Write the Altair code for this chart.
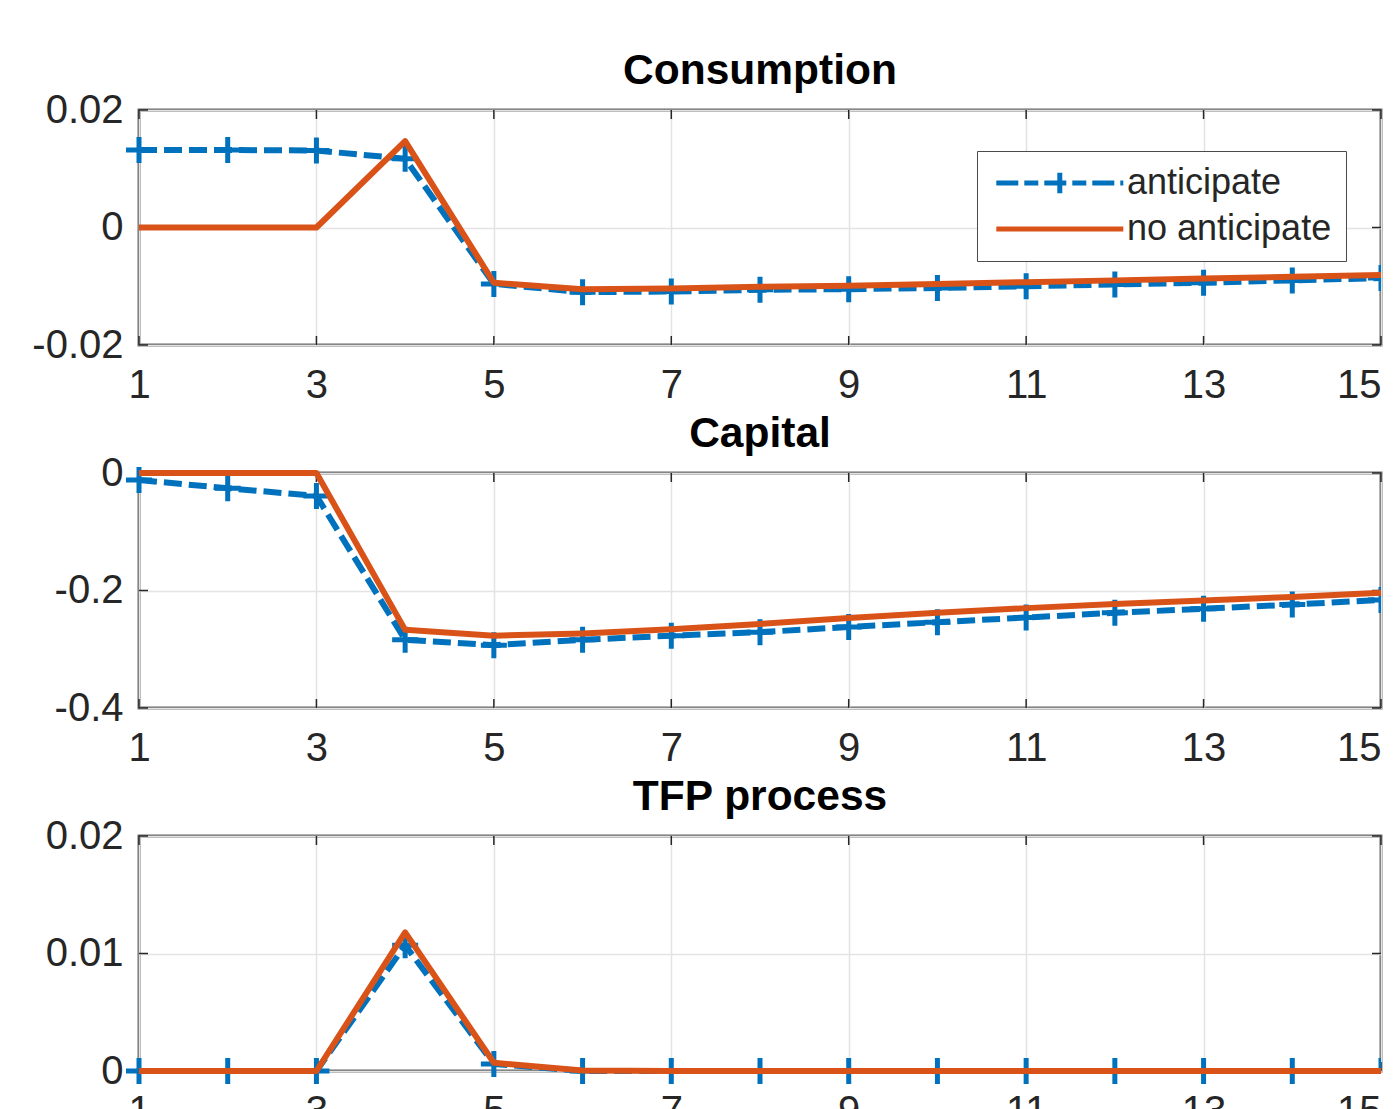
import altair as alt
import pandas as pd

# ---------------- data ----------------
periods = list(range(1, 16))
series_names = ["anticipate", "no anticipate"]
x_ticks = [1, 3, 5, 7, 9, 11, 13, 15]

cons_anticipate = [0.0132, 0.0132, 0.0131, 0.0117, -0.0096, -0.0110, -0.0109, -0.0106,
                   -0.0105, -0.0103, -0.0100, -0.0097, -0.0094, -0.0090, -0.0086]
cons_no_anticipate = [0.0, 0.0, 0.0, 0.0147, -0.0094, -0.0105, -0.0104, -0.0101,
                      -0.0099, -0.0096, -0.0093, -0.0090, -0.0087, -0.0084, -0.0081]

cap_anticipate = [-0.012, -0.026, -0.039, -0.284, -0.293, -0.284, -0.277, -0.271,
                  -0.262, -0.254, -0.246, -0.238, -0.231, -0.224, -0.216]
cap_no_anticipate = [0.0, 0.0, 0.0, -0.267, -0.277, -0.273, -0.266, -0.257,
                     -0.247, -0.238, -0.230, -0.223, -0.217, -0.211, -0.204]

tfp_anticipate = [0.0, 0.0, 0.0, 0.0107, 0.0006, 0.0, 0.0, 0.0,
                  0.0, 0.0, 0.0, 0.0, 0.0, 0.0, 0.0]
tfp_no_anticipate = [0.0, 0.0, 0.0, 0.0118, 0.0007, 0.00005, 0.0, 0.0,
                     0.0, 0.0, 0.0, 0.0, 0.0, 0.0, 0.0]

cons_y_ticks = [-0.02, 0.0, 0.02]
cap_y_ticks = [-0.4, -0.2, 0.0]
tfp_y_ticks = [0.0, 0.01, 0.02]

# ---------------- style ----------------
BLUE = "#0072BD"
ORANGE = "#D95319"
FONT = "Liberation Sans"
W, H = 1242, 235
PLUS = "M-1,0H1M0,-1V1"
LEG_CROSS = "M4,-0.8V0.8M-1,0H9"
LEG_LINE = "M-1,0H9"
LABEL_EXPR = ("datum.value == 0 ? '0' : (datum.value < 0 ? '-' + format(-datum.value, '') "
              ": format(datum.value, ''))")


def panel(title, a_vals, n_vals, ydom, yticks, with_legend=False):
    df = pd.DataFrame({
        "t": periods + periods,
        "v": a_vals + n_vals,
        "series": [series_names[0]] * len(periods) + [series_names[1]] * len(periods),
    })
    xt = pd.DataFrame({"t": x_ticks})
    yt = pd.DataFrame({"v": yticks})

    x = alt.X("t:Q", scale=alt.Scale(domain=[1, 15], nice=False, zero=False),
              axis=alt.Axis(values=x_ticks, title=None, grid=True, domain=False, ticks=False,
                            labelPadding=20, labelFontSize=40, labelFont=FONT,
                            labelColor="#262626", format="d", labelFlush=False,
                            labelAlign=alt.condition("datum.value == 15",
                                                     alt.value("right"), alt.value("center"))))
    y = alt.Y("v:Q", scale=alt.Scale(domain=ydom, nice=False, zero=False),
              axis=alt.Axis(values=yticks, title=None, grid=True, domain=False, ticks=False,
                            labelPadding=16, labelFontSize=40, labelFont=FONT,
                            labelColor="#262626", labelExpr=LABEL_EXPR, labelFlush=False))

    base = alt.Chart(df).encode(x=x, y=y)
    is_a = alt.datum.series == series_names[0]
    blue_line = base.transform_filter(is_a).mark_line(
        color=BLUE, strokeWidth=6, strokeDash=[18, 7], strokeJoin="round")
    blue_pts = base.transform_filter(is_a).transform_filter(alt.datum.t < 15).mark_point(
        shape=PLUS, size=676, color=BLUE, strokeWidth=5, filled=False, opacity=1)
    blue_pts_edge = base.transform_filter(is_a).transform_filter(alt.datum.t >= 15).mark_point(
        shape=PLUS, size=676, color=BLUE, strokeWidth=5, filled=False, opacity=1, clip=True)
    orange_line = base.transform_filter(alt.datum.series == series_names[1]).mark_line(
        color=ORANGE, strokeWidth=6, strokeJoin="round")

    tick_col = "#262626"
    xt_bottom = alt.Chart(xt).mark_rule(color=tick_col, strokeWidth=1.5).encode(
        x=x, y=alt.value(H), y2=alt.value(H - 9))
    xt_top = alt.Chart(xt).mark_rule(color=tick_col, strokeWidth=1.5).encode(
        x=x, y=alt.value(0), y2=alt.value(9))
    yt_left = alt.Chart(yt).mark_rule(color=tick_col, strokeWidth=1.5).encode(
        y=y, x=alt.value(0), x2=alt.value(9))
    yt_right = alt.Chart(yt).mark_rule(color=tick_col, strokeWidth=1.5).encode(
        y=y, x=alt.value(W), x2=alt.value(W - 9))

    layers = [xt_bottom, xt_top, yt_left, yt_right, blue_line, blue_pts, blue_pts_edge,
              orange_line]

    if with_legend:
        leg = alt.Legend(title=None, orient="none", legendX=838, legendY=41,
                         labelFontSize=36, labelFont=FONT, labelColor="#262626",
                         labelOffset=100, labelLimit=500, symbolSize=645,
                         symbolStrokeWidth=5,
                         rowPadding=7, padding=14, fillColor="white",
                         strokeColor="#4a4a4a", symbolFillColor="transparent")
        legend_layer = alt.Chart(df).transform_filter("datum.t < 0").mark_point(
            filled=False, strokeWidth=5, size=645, opacity=1).encode(
            x=x, y=y,
            color=alt.Color("series:N", scale=alt.Scale(domain=series_names, range=[BLUE, ORANGE]),
                            legend=leg),
            shape=alt.Shape("series:N", scale=alt.Scale(domain=series_names,
                                                       range=[LEG_CROSS, LEG_LINE]), legend=leg),
            strokeDash=alt.StrokeDash("series:N", scale=alt.Scale(domain=series_names,
                                                                 range=[[22, 6, 14, 6], [1, 0]]),
                                      legend=leg),
        )
        layers.append(legend_layer)

    return alt.layer(*layers).properties(
        width=W, height=H,
        title=alt.TitleParams(title, fontSize=42.5, fontWeight="bold", font=FONT,
                              color="#000000", anchor="middle", offset=-2),
    )


p1 = panel("Consumption", cons_anticipate, cons_no_anticipate, [-0.02, 0.02], cons_y_ticks, True)
p2 = panel("Capital", cap_anticipate, cap_no_anticipate, [-0.4, 0.0], cap_y_ticks)
p3 = panel("TFP process", tfp_anticipate, tfp_no_anticipate, [0.0, 0.02], tfp_y_ticks)

chart = alt.vconcat(p1, p2, p3, spacing=4).resolve_scale(
    color="independent", shape="independent", strokeDash="independent"
).properties(
    padding={"left": 22, "top": 40, "right": 0, "bottom": 0},
    background="white",
).configure_view(
    stroke="#666666", strokeWidth=3,
).configure_axis(
    gridColor="#e3e3e3", gridWidth=1.5,
)

chart.save("out.html", embed_options={"renderer": "svg", "actions": False})
